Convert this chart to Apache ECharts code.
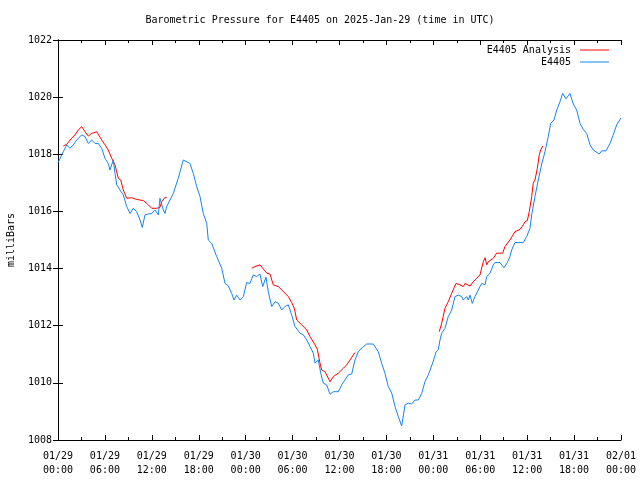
<!DOCTYPE html>
<html>
<head>
<meta charset="utf-8">
<script src="https://cdn.jsdelivr.net/npm/echarts@6/dist/echarts.min.js"></script>
<style>html,body{margin:0;padding:0;background:#fff}#c{width:640px;height:480px}</style>
</head>
<body>
<div id="c"></div>
<script>
// hours since 2025-01-29 00:00 UTC
var obsHours = [0,0.68,1.11,1.53,1.96,2.39,3.03,3.45,3.87,4.31,4.73,5.15,5.59,6.01,6.43,6.65,7.07,7.29,7.51,7.93,8.35,8.79,9.21,9.63,10.06,10.49,10.78,11.13,11.55,11.98,12.41,12.83,13.04,13.47,13.68,13.9,14.32,14.75,15.38,15.6,16.02,16.24,16.88,17.3,17.74,18.16,18.58,19.02,19.22,19.66,20.29,20.94,21.36,21.78,22.21,22.51,22.85,23.27,23.7,24.13,24.55,24.77,24.98,25.41,25.83,26.18,26.6,26.89,27.33,27.75,28.17,28.61,29.03,29.45,29.88,30.31,30.95,31.37,31.81,32.23,32.65,32.87,33.29,33.6,33.93,34.36,34.79,35.21,35.85,36.28,36.7,37.13,37.56,37.98,38.4,39.04,39.48,40.32,40.96,41.4,41.82,42.24,42.68,43.1,43.52,43.95,44.38,44.8,45.23,45.66,46.08,46.51,46.93,47.36,47.96,48.34,48.64,48.85,49.07,49.49,49.91,50.35,50.77,51.19,51.63,51.83,52.27,52.47,52.69,52.98,53.33,53.75,53.97,54.19,54.61,54.83,55.25,55.67,55.89,56.53,56.74,57.04,57.46,57.8,58.02,58.44,59.51,59.94,60.36,60.58,61.0,61.42,61.86,62.28,62.7,63.01,63.43,63.78,64.2,64.54,64.96,65.47,65.9,66.33,66.76,67.18,67.61,68.04,68.46,68.67,69.23,69.53,70.08,70.59,71.01,71.45,72];
var obsValues = [1017.7,1018.09,1018.33,1018.21,1018.33,1018.5,1018.68,1018.62,1018.38,1018.5,1018.38,1018.38,1018.21,1017.86,1017.68,1017.45,1017.8,1017.33,1016.93,1016.75,1016.58,1016.17,1015.93,1016.11,1015.99,1015.7,1015.44,1015.88,1015.91,1015.93,1016.05,1015.88,1016.46,1016.05,1015.93,1016.17,1016.4,1016.63,1017.16,1017.16,1017.8,1017.8,1017.68,1017.33,1016.87,1016.52,1015.93,1015.58,1015.0,1014.88,1014.42,1014.01,1013.48,1013.4,1013.13,1012.9,1013.07,1012.9,1013.02,1013.51,1013.48,1013.43,1013.78,1013.72,1013.81,1013.37,1013.7,1013.19,1012.67,1012.84,1012.79,1012.55,1012.67,1012.73,1012.38,1011.97,1011.74,1011.68,1011.5,1011.27,1011.04,1010.69,1010.8,1010.34,1009.99,1009.93,1009.6,1009.69,1009.69,1009.93,1010.1,1010.28,1010.31,1010.8,1011.09,1011.27,1011.36,1011.36,1011.09,1010.68,1010.33,1009.87,1009.64,1009.17,1008.82,1008.49,1009.23,1009.29,1009.26,1009.4,1009.4,1009.63,1010.04,1010.28,1010.73,1011.08,1011.17,1011.5,1011.74,1011.91,1012.32,1012.55,1013.02,1013.07,1013.02,1012.9,1013.02,1012.9,1013.07,1012.78,1013.02,1013.25,1013.37,1013.48,1013.43,1013.72,1013.84,1014.13,1014.21,1014.21,1014.13,1014.03,1014.21,1014.42,1014.65,1014.91,1014.91,1015.12,1015.41,1015.88,1016.52,1017.1,1017.66,1018.09,1018.62,1019.08,1019.2,1019.55,1019.84,1020.13,1019.94,1020.13,1019.76,1019.55,1019.08,1018.87,1018.73,1018.33,1018.15,1018.21,1018.01,1018.12,1018.12,1018.38,1018.68,1019.03,1019.27];

var anaHours1 = [0.68,1.11,1.75,2.17,2.6,3.03,3.45,3.87,4.31,4.95,5.15,5.59,6.01,6.43,6.87,7.07,7.29,7.71,8.02,8.35,8.79,9.42,10.06,10.91,11.55,11.98,12.62,13.04,13.26,13.68,13.9];
var anaValues1 = [1018.29,1018.35,1018.56,1018.68,1018.85,1018.97,1018.79,1018.64,1018.73,1018.79,1018.83,1018.5,1018.33,1018.15,1017.86,1017.86,1017.63,1017.16,1017.1,1016.75,1016.46,1016.48,1016.42,1016.38,1016.23,1016.11,1016.11,1016.14,1016.34,1016.49,1016.49];
var anaHours2 = [24.77,25.19,25.83,26.05,26.7,27.11,27.53,28.17,29.03,29.45,29.88,30.22,30.53,31.17,31.81,32.23,32.87,33.16,33.51,33.72,34.15,34.79,35.21,35.85,36.49,36.92,37.34,37.98];
var anaValues2 = [1014.01,1014.07,1014.13,1014.15,1013.84,1013.81,1013.43,1013.37,1013.14,1013.02,1012.81,1012.61,1012.2,1012.03,1011.85,1011.62,1011.33,1011.18,1010.69,1010.45,1010.39,1010.04,1010.22,1010.34,1010.51,1010.63,1010.8,1011.06];
var anaHours3 = [48.76,49.07,49.49,49.91,50.35,50.9,51.41,51.83,52.05,52.69,53.11,53.55,53.97,54.39,54.61,54.83,55.03,55.67,56.1,56.87,57.16,57.8,58.44,59.08,59.51,59.72,60.02,60.27,60.58,60.78,61.0,61.3,61.55,61.73,61.99];
var anaValues3 = [1011.79,1012.09,1012.61,1012.84,1013.14,1013.48,1013.43,1013.37,1013.48,1013.39,1013.54,1013.66,1013.78,1014.24,1014.38,1014.13,1014.24,1014.36,1014.54,1014.54,1014.77,1015.0,1015.29,1015.37,1015.53,1015.64,1015.68,1015.99,1016.52,1016.99,1017.1,1017.51,1017.98,1018.15,1018.29];

var xTickLabels = ['01/29\n00:00','01/29\n06:00','01/29\n12:00','01/29\n18:00','01/30\n00:00','01/30\n06:00','01/30\n12:00','01/30\n18:00','01/31\n00:00','01/31\n06:00','01/31\n12:00','01/31\n18:00','02/01\n00:00'];
var titleText = 'Barometric Pressure for E4405 on 2025-Jan-29 (time in UTC)';
var obsName = 'E4405';
var anaName = 'E4405 Analysis';

function pairs(h, v) { return h.map(function (x, i) { return [x, v[i]]; }); }

var FONT = 'DejaVu Sans Mono';
var RED = '#ff0000';
var BLUE = '#1484f0';
var axisLine = { show: true, lineStyle: { color: '#000', width: 1 } };

var chart = echarts.init(document.getElementById('c'), null, { renderer: 'canvas' });
chart.setOption({
  animation: false,
  backgroundColor: '#fff',
  title: {
    text: titleText, left: 'center', top: 10,
    textStyle: { fontFamily: FONT, fontSize: 10, fontWeight: 'normal', color: '#000' }
  },
  legend: [
    { data: [anaName], right: 31, top: 45, padding: 0, align: 'right', icon: 'rect', itemWidth: 29, itemHeight: 1,
      textStyle: { fontFamily: FONT, fontSize: 10, color: '#000', padding: [0, 4, 0, 0] } },
    { data: [obsName], right: 31, top: 57, padding: 0, align: 'right', icon: 'rect', itemWidth: 29, itemHeight: 1,
      textStyle: { fontFamily: FONT, fontSize: 10, color: '#000', padding: [0, 4, 0, 0] } }
  ],
  grid: { left: 58, right: 19, top: 40, bottom: 40, containLabel: false, outerBoundsMode: 'none', show: false },
  xAxis: [
    { type: 'value', min: 0, max: 72, interval: 6, position: 'bottom',
      axisLine: axisLine,
      axisTick: { show: true, inside: true, length: 5, lineStyle: { color: '#000' } },
      minorTick: { show: true, splitNumber: 2, length: 3, lineStyle: { color: '#000' } },
      splitLine: { show: false },
      axisLabel: { show: true, margin: 9, fontFamily: FONT, fontSize: 10, color: '#000', lineHeight: 14,
        formatter: function (v) { return xTickLabels[Math.round(v / 6)]; } } },
    { type: 'value', min: 0, max: 72, interval: 6, position: 'top',
      axisLine: axisLine,
      axisTick: { show: true, inside: true, length: 5, lineStyle: { color: '#000' } },
      minorTick: { show: true, splitNumber: 2, length: 3, lineStyle: { color: '#000' } },
      splitLine: { show: false }, axisLabel: { show: false } }
  ],
  yAxis: [
    { type: 'value', min: 1008, max: 1022, interval: 2, position: 'left',
      name: 'milliBars', nameLocation: 'middle', nameRotate: 90, nameGap: 42,
      nameTextStyle: { fontFamily: FONT, fontSize: 10, color: '#000' },
      axisLine: axisLine,
      axisTick: { show: true, inside: true, length: 5, lineStyle: { color: '#000' } },
      splitLine: { show: false },
      axisLabel: { margin: 6, fontFamily: FONT, fontSize: 10, color: '#000',
        formatter: function (v) { return String(v); } } },
    { type: 'value', min: 1008, max: 1022, interval: 2, position: 'right',
      axisLine: axisLine,
      axisTick: { show: true, inside: true, length: 5, lineStyle: { color: '#000' } },
      splitLine: { show: false }, axisLabel: { show: false } }
  ],
  series: [
    { name: anaName, type: 'line', data: pairs(anaHours1, anaValues1), symbol: 'none', color: RED,
      lineStyle: { width: 1, color: RED } },
    { name: anaName, type: 'line', data: pairs(anaHours2, anaValues2), symbol: 'none', color: RED,
      lineStyle: { width: 1, color: RED } },
    { name: anaName, type: 'line', data: pairs(anaHours3, anaValues3), symbol: 'none', color: RED,
      lineStyle: { width: 1, color: RED } },
    { name: obsName, type: 'line', data: pairs(obsHours, obsValues), symbol: 'none', color: BLUE,
      lineStyle: { width: 1, color: BLUE } }
  ]
});
</script>
</body>
</html>
